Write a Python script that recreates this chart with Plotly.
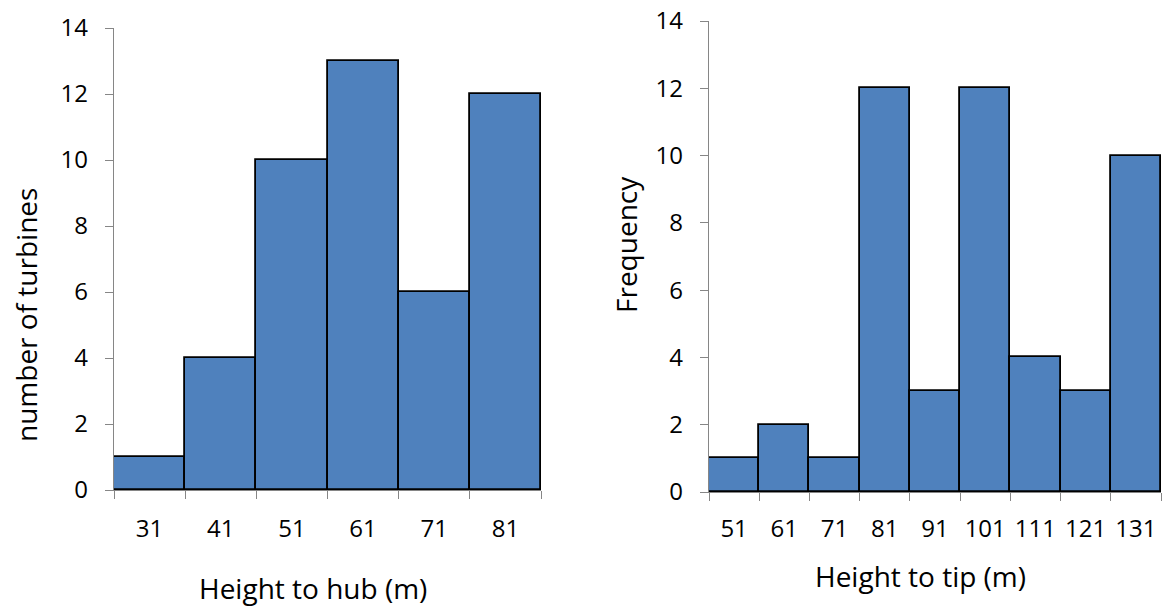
import plotly.graph_objects as go

# Histogram data: turbine heights
hub_bins = ["31", "41", "51", "61", "71", "81"]
hub_counts = [1, 4, 10, 13, 6, 12]

tip_bins = ["51", "61", "71", "81", "91", "101", "111", "121", "131"]
tip_counts = [1, 2, 1, 12, 3, 12, 4, 3, 10]

y_ticks = [0, 2, 4, 6, 8, 10, 12, 14]

W, H = 1166, 608
FONT = "Open Sans"
BAR_COLOR = "#4F81BD"
AXIS_COLOR = "#868686"


def px_x(p):
    return p / W


def px_y(p):
    return 1 - p / H


fig = go.Figure()
fig.add_trace(go.Bar(x=hub_bins, y=hub_counts, xaxis="x", yaxis="y",
                     marker=dict(color=BAR_COLOR, line=dict(color="black", width=1.8))))
fig.add_trace(go.Bar(x=tip_bins, y=tip_counts, xaxis="x2", yaxis="y2",
                     marker=dict(color=BAR_COLOR, line=dict(color="black", width=1.8))))

tick_font = dict(family=FONT, size=24, color="black")
common_x = dict(type="category", showline=True, linecolor=AXIS_COLOR, linewidth=1.3,
                ticks="outside", tickson="boundaries", ticklen=8, tickcolor=AXIS_COLOR,
                tickwidth=1.3, showgrid=False, zeroline=False, automargin=False,
                tickangle=0, tickfont=tick_font)
common_y = dict(range=[0, 14], tickvals=y_ticks, showline=True, linecolor=AXIS_COLOR,
                linewidth=1.3, ticks="outside", ticklen=8, tickcolor=AXIS_COLOR,
                tickwidth=1.3, showgrid=False, zeroline=False, automargin=False,
                tickfont=tick_font)

fig.update_layout(
    template="none",
    width=W, height=H,
    margin=dict(l=0, r=0, t=0, b=0, pad=0),
    paper_bgcolor="white", plot_bgcolor="white",
    showlegend=False, bargap=0,
    xaxis=dict(common_x, domain=[px_x(114), px_x(541)], anchor="y",
               range=[-0.5, len(hub_bins) - 0.5], ticklabelstandoff=17),
    yaxis=dict(common_y, domain=[px_y(490), px_y(28)], anchor="x",
               ticklabelstandoff=12),
    xaxis2=dict(common_x, domain=[px_x(709), px_x(1161)], anchor="y2",
                range=[-0.5, len(tip_bins) - 0.5], ticklabelstandoff=15),
    yaxis2=dict(common_y, domain=[px_y(492), px_y(21)], anchor="x2",
                ticklabelstandoff=12),
)

title_font = dict(family=FONT, size=28, color="black")
titles = [
    ("Height to hub (m)", 313, 588, 0),
    ("Height to tip (m)", 920, 576, 0),
    ("number of turbines", 26, 315, -90),
    ("Frequency", 626, 245, -90),
]
for text, tx, ty, angle in titles:
    fig.add_annotation(text=text, x=px_x(tx), y=px_y(ty), xref="paper", yref="paper",
                       xanchor="center", yanchor="middle", showarrow=False,
                       textangle=angle, font=title_font)

fig.write_html("out.html")
